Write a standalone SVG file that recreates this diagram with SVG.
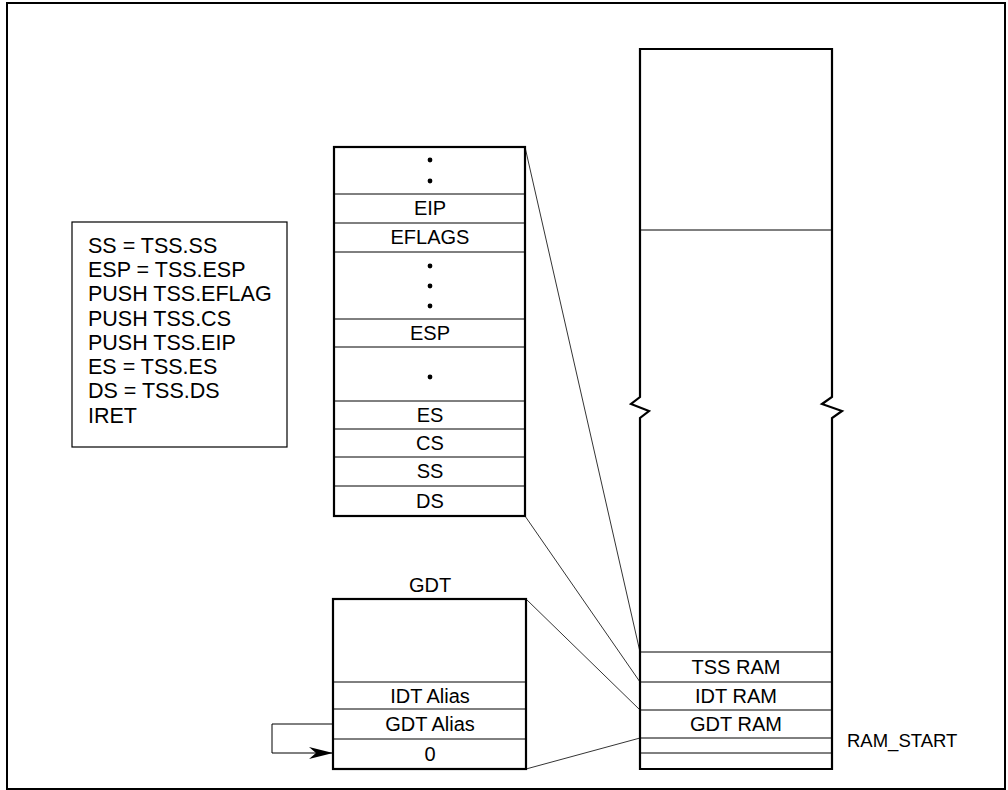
<svg xmlns="http://www.w3.org/2000/svg" width="1008" height="790" viewBox="0 0 1008 790">
<style>
text{font-family:"Liberation Sans",Arial,sans-serif;font-size:20px;fill:#000}
.c{text-anchor:middle}
.l{font-size:21.5px}
.box{fill:#fff;stroke:#000;stroke-width:2.2}
.thin{fill:none;stroke:#000;stroke-width:1}
.conn{fill:none;stroke:#000;stroke-width:0.8}
</style>
<defs>
<marker id="ah" markerWidth="26" markerHeight="12" refX="24" refY="6" orient="auto" markerUnits="userSpaceOnUse">
<path d="M0,0 L24,6 L0,12 L7,6 Z" fill="#000"/>
</marker>
</defs>
<rect x="7" y="3" width="998" height="786" fill="#fff" stroke="#000" stroke-width="2"/>

<g id="code">
<rect x="72" y="222" width="215" height="225" fill="#fff" stroke="#000" stroke-width="1.2"/>
<text class="l" x="88" y="253">SS = TSS.SS</text>
<text class="l" x="88" y="277">ESP = TSS.ESP</text>
<text class="l" x="88" y="301">PUSH TSS.EFLAG</text>
<text class="l" x="88" y="326">PUSH TSS.CS</text>
<text class="l" x="88" y="350">PUSH TSS.EIP</text>
<text class="l" x="88" y="374">ES = TSS.ES</text>
<text class="l" x="88" y="398">DS = TSS.DS</text>
<text class="l" x="88" y="423">IRET</text>
</g>

<g id="tss">
<rect class="box" x="334" y="147" width="191" height="369"/>
<path class="thin" d="M334,194H525M334,223H525M334,252H525M334,319H525M334,347H525M334,401H525M334,429H525M334,457H525M334,486H525"/>
<circle cx="430" cy="160" r="2.4"/><circle cx="430" cy="181" r="2.4"/>
<text class="c" x="430" y="215">EIP</text>
<text class="c" x="430" y="244">EFLAGS</text>
<circle cx="430" cy="266" r="2.4"/><circle cx="430" cy="286" r="2.4"/><circle cx="430" cy="306" r="2.4"/>
<text class="c" x="430" y="340">ESP</text>
<circle cx="430" cy="377" r="2.4"/>
<text class="c" x="430" y="422">ES</text>
<text class="c" x="430" y="450">CS</text>
<text class="c" x="430" y="478">SS</text>
<text class="c" x="430" y="508">DS</text>
</g>

<g id="gdt">
<text class="c" x="430" y="592">GDT</text>
<rect class="box" x="333" y="599" width="193" height="170"/>
<path class="thin" d="M333,682H526M333,709H526M333,739H526"/>
<text class="c" x="430" y="703">IDT Alias</text>
<text class="c" x="430" y="731">GDT Alias</text>
<text class="c" x="430" y="761">0</text>
</g>

<g id="ram">
<path d="M640,49H832V397L822,404L842,411L832,418V769H640V418L649,411L631,404L640,397Z" fill="#fff" stroke="#000" stroke-width="2.2" stroke-linejoin="miter"/>
<path class="thin" d="M640,230H832M640,652H832M640,682H832M640,710H832M640,738H832M640,753H832"/>
<text class="c" x="736" y="674">TSS RAM</text>
<text class="c" x="736" y="703">IDT RAM</text>
<text class="c" x="736" y="731">GDT RAM</text>
<text x="847" y="747" style="font-size:18.5px">RAM_START</text>
</g>

<g id="connectors">
<line class="conn" x1="525" y1="147" x2="640" y2="652"/>
<line class="conn" x1="525" y1="516" x2="640" y2="682"/>
<line class="conn" x1="526" y1="599" x2="640" y2="710"/>
<line class="conn" x1="526" y1="769" x2="640" y2="738"/>
<path class="thin" d="M333,724H272V753H333" marker-end="url(#ah)"/>
</g>
</svg>
